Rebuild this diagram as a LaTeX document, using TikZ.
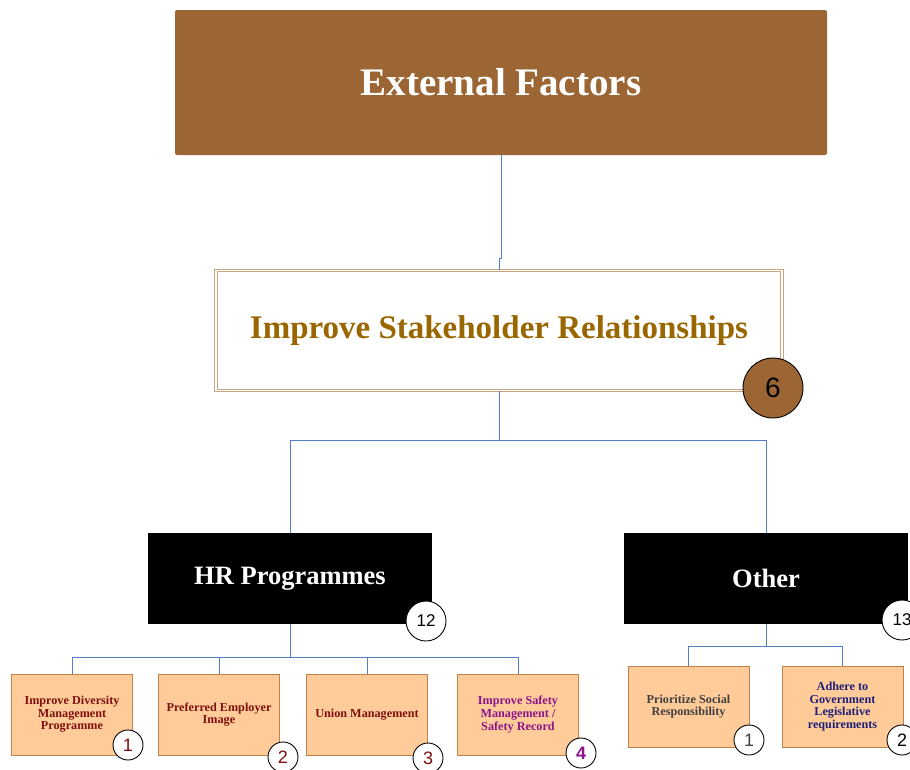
\documentclass[tikz,border=0pt]{standalone}
\usepackage{fontspec}
\setmainfont{Liberation Serif}
\newfontfamily\numfont{Liberation Sans}
\usetikzlibrary{calc}
\definecolor{brownfill}{RGB}{155,101,52}
\definecolor{goldtext}{RGB}{153,102,0}
\definecolor{tanline}{RGB}{200,165,130}
\definecolor{boxfill}{RGB}{255,204,153}
\definecolor{boxline}{RGB}{192,128,74}
\definecolor{linkblue}{RGB}{84,125,200}
\definecolor{darkred}{RGB}{128,16,16}
\definecolor{purp}{RGB}{140,20,140}
\definecolor{graytext}{RGB}{64,64,64}
\definecolor{navytext}{RGB}{31,31,120}
\tikzset{
  link/.style={draw=linkblue, line width=0.8pt},
  topbox/.style={fill=brownfill, draw=none, rounded corners=2pt, minimum width=652pt, minimum height=145pt, inner sep=0pt, text=white, font=\fontsize{39}{44}\selectfont\bfseries},
  goalbox/.style={draw=tanline, double=white, double distance=1.4pt, line width=0.9pt, fill=white, minimum width=566pt, minimum height=120pt, inner sep=0pt, text=goldtext, font=\fontsize{33}{38}\selectfont\bfseries},
  groupbox/.style={fill=black, draw=none, minimum width=284pt, minimum height=91pt, inner sep=0pt, text=white, font=\fontsize{26.5}{30}\selectfont\bfseries},
  leafbox/.style={fill=boxfill, draw=boxline, line width=0.9pt, minimum width=121pt, minimum height=81pt, inner sep=0pt, align=center, font=\fontsize{12.2}{12.6}\selectfont\bfseries},
  bigbadge/.style={circle, draw=black, line width=0.9pt, fill=brownfill, minimum size=60pt, inner sep=0pt, font=\numfont\fontsize{28}{30}\selectfont},
  midbadge/.style={circle, draw=black, line width=0.9pt, fill=white, minimum size=40pt, inner sep=0pt, font=\numfont\fontsize{17}{19}\selectfont},
  smallbadge/.style={circle, draw=black, line width=0.9pt, fill=white, minimum size=30pt, inner sep=0pt, font=\numfont\fontsize{18}{20}\selectfont}
}
\begin{document}
\begin{tikzpicture}[x=1pt, y=-1pt]
\useasboundingbox (0,0) rectangle (910,769);
% nodes
\node[topbox] (ext) at (501,82.5) {External Factors};
\node[goalbox] (isr) at (499,330.5) {Improve Stakeholder Relationships};
\node[groupbox] (hr) at (290,578.5) {HR Programmes};
\node[groupbox] (oth) at (766,578.5) {Other};
\node[leafbox, text=darkred] (b1) at (72,714.5) {Improve Diversity\\Management\\Programme};
\node[leafbox, text=darkred] (b2) at (219,714.5) {Preferred Employer\\Image};
\node[leafbox, text=darkred] (b3) at (367,714.5) {Union Management};
\node[leafbox, text=purp] (b4) at (518,714.5) {Improve Safety\\Management /\\Safety Record};
\node[leafbox, text=graytext] (b5) at (688.5,706.5) {Prioritize Social\\Responsibility};
\node[leafbox, text=navytext] (b6) at (842.5,706.5) {Adhere to\\Government\\Legislative\\requirements};
% connectors
\draw[link] (ext.south) -- ++(0,103) -| (isr.north);
\coordinate (j1) at ($(isr.south)+(0,49)$);
\draw[link] (isr.south) -- (j1) -| (hr.north);
\draw[link] (j1) -| (oth.north);
\coordinate (j2) at ($(hr.south)+(0,33)$);
\draw[link] (hr.south) -- (j2);
\draw[link] (j2) -| (b1.north);
\draw[link] (j2) -| (b2.north);
\draw[link] (j2) -| (b3.north);
\draw[link] (j2) -| (b4.north);
\coordinate (j3) at ($(oth.south)+(0,22)$);
\draw[link] (oth.south) -- (j3);
\draw[link] (j3) -| (b5.north);
\draw[link] (j3) -| (b6.north);
% badges
\node[bigbadge] (n6) at (773,388) {6};
\node[midbadge] (n12) at (426,621) {12};
\node[midbadge] (n13) at (902,620) {13};
\node[smallbadge, text=darkred] (c1) at (128,745) {1};
\node[smallbadge, text=darkred] (c2) at (283,757) {2};
\node[smallbadge, text=darkred] (c3) at (428,758) {3};
\node[smallbadge, text=purp, font=\numfont\bfseries\fontsize{18}{20}\selectfont] (c4) at (581,753) {4};
\node[smallbadge, text=graytext] (c5) at (749,740) {1};
\node[smallbadge, text=black] (c6) at (902,740) {2};
\end{tikzpicture}
\end{document}
